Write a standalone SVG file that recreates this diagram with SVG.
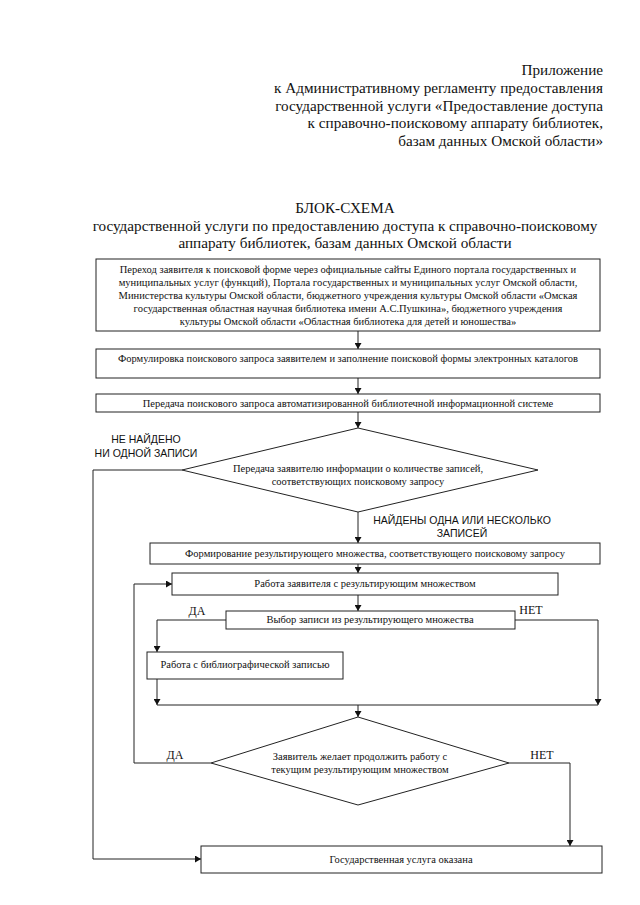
<svg xmlns="http://www.w3.org/2000/svg" width="640" height="905" viewBox="0 0 640 905">
<defs>
<style>
.hd{font-family:"Liberation Serif","Times New Roman",serif;font-size:15.2px;fill:#111}
.bx{fill:#fff;stroke:#222;stroke-width:1}
.t{font-family:"Liberation Serif","Times New Roman",serif;font-size:10.5px;fill:#111;text-anchor:middle}
.lb{font-family:"Liberation Sans",Arial,sans-serif;font-size:10.5px;fill:#111;text-anchor:middle}
.yn{font-family:"Liberation Serif","Times New Roman",serif;font-size:12px;fill:#111;text-anchor:middle}
.c{fill:none;stroke:#222;stroke-width:1}
</style>
<marker id="ah" markerWidth="6" markerHeight="7" refX="6" refY="3.5" orient="auto" markerUnits="userSpaceOnUse"><path d="M0,0 L6,3.5 L0,7 z" fill="#111"/></marker>
</defs>
<rect width="640" height="905" fill="#fff"/>
<g id="header" class="hd" text-anchor="end">
<text x="603" y="75">Приложение</text>
<text x="603" y="93">к Административному регламенту предоставления</text>
<text x="603" y="111">государственной услуги «Предоставление доступа</text>
<text x="603" y="128">к справочно-поисковому аппарату библиотек,</text>
<text x="603" y="146">базам данных Омской области»</text>
</g>
<g id="title" class="hd" text-anchor="middle">
<text x="345" y="213">БЛОК-СХЕМА</text>
<text x="345" y="231">государственной услуги по предоставлению доступа к справочно-поисковому</text>
<text x="345" y="248">аппарату библиотек, базам данных Омской области</text>
</g>
<g id="connectors">
<path class="c" d="M358,331 V349" marker-end="url(#ah)"/>
<path class="c" d="M358,378 V394" marker-end="url(#ah)"/>
<path class="c" d="M358,412 V428" marker-end="url(#ah)"/>
<path class="c" d="M182,470 H93 V859 H201" marker-end="url(#ah)"/>
<path class="c" d="M358,512 V543" marker-end="url(#ah)"/>
<path class="c" d="M358,564 V573" marker-end="url(#ah)"/>
<path class="c" d="M358,595 V611" marker-end="url(#ah)"/>
<path class="c" d="M226,620 H157 V652" marker-end="url(#ah)"/>
<path class="c" d="M515,620 H598 V705" marker-end="url(#ah)"/>
<path class="c" d="M157,679 V705" marker-end="url(#ah)"/>
<path class="c" d="M157,705 H598"/>
<path class="c" d="M358,705 V717" marker-end="url(#ah)"/>
<path class="c" d="M211,763 H134 V584 H172" marker-end="url(#ah)"/>
<path class="c" d="M509,763 H570 V846" marker-end="url(#ah)"/>
<text class="lb" x="146" y="443">НЕ НАЙДЕНО</text>
<text class="lb" x="146" y="457">НИ ОДНОЙ ЗАПИСИ</text>
<text class="lb" x="462" y="524">НАЙДЕНЫ ОДНА ИЛИ НЕСКОЛЬКО</text>
<text class="lb" x="462" y="537">ЗАПИСЕЙ</text>
<text class="yn" x="197" y="615">ДА</text>
<text class="yn" x="531" y="614">НЕТ</text>
<text class="yn" x="175" y="759">ДА</text>
<text class="yn" x="542" y="759">НЕТ</text>
</g>
<g id="n1">
<rect class="bx" x="96" y="259" width="504" height="72"/>
<text class="t" x="348" y="273">Переход заявителя к поисковой форме через официальные сайты Единого портала государственных и</text>
<text class="t" x="348" y="286">муниципальных услуг (функций), Портала государственных и муниципальных услуг Омской области,</text>
<text class="t" x="348" y="299">Министерства культуры Омской области, бюджетного учреждения культуры Омской области «Омская</text>
<text class="t" x="348" y="312">государственная областная научная библиотека имени А.С.Пушкина», бюджетного учреждения</text>
<text class="t" x="348" y="325">культуры Омской области «Областная библиотека для детей и юношества»</text>
</g>
<g id="n2">
<rect class="bx" x="96" y="349" width="504" height="29"/>
<text class="t" x="348" y="362">Формулировка поискового запроса заявителем и заполнение поисковой формы электронных каталогов</text>
</g>
<g id="n3">
<rect class="bx" x="96" y="394" width="504" height="18"/>
<text class="t" x="348" y="407">Передача поискового запроса автоматизированной библиотечной информационной системе</text>
</g>
<g id="d1">
<polygon class="bx" points="358,428 538,470 358,512 182,470"/>
<text class="t" x="358" y="472">Передача заявителю информации о количестве записей,</text>
<text class="t" x="358" y="485">соответствующих поисковому запросу</text>
</g>
<g id="n4">
<rect class="bx" x="150" y="543" width="450" height="21"/>
<text class="t" x="375" y="557">Формирование результирующего множества, соответствующего поисковому запросу</text>
</g>
<g id="n5">
<rect class="bx" x="172" y="573" width="386" height="22"/>
<text class="t" x="365" y="587">Работа заявителя с результирующим множеством</text>
</g>
<g id="n6">
<rect class="bx" x="226" y="611" width="289" height="18"/>
<text class="t" x="370" y="623">Выбор записи из результирующего множества</text>
</g>
<g id="n7">
<rect class="bx" x="147" y="652" width="196" height="27"/>
<text class="t" x="245" y="668">Работа с библиографической записью</text>
</g>
<g id="d2">
<polygon class="bx" points="358,717 509,763 358,805 211,763"/>
<text class="t" x="360" y="760">Заявитель желает продолжить работу с</text>
<text class="t" x="360" y="773">текущим результирующим множеством</text>
</g>
<g id="n8">
<rect class="bx" x="201" y="846" width="401" height="27"/>
<text class="t" x="401" y="863">Государственная услуга оказана</text>
</g>
</svg>
